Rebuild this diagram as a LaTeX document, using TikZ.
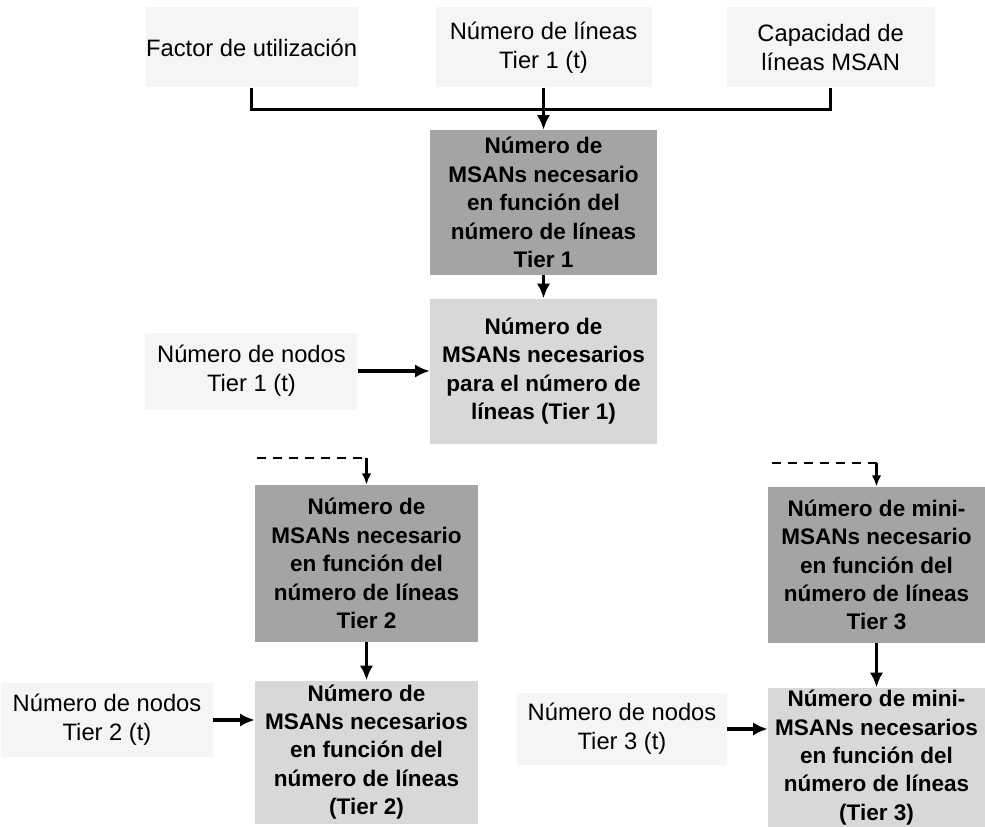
\documentclass[tikz,border=0pt]{standalone}
\usepackage{fontspec}
\setmainfont{Liberation Sans}
\usetikzlibrary{positioning}
\usetikzlibrary{arrows.meta}
\definecolor{darkGray}{HTML}{A4A4A4}
\definecolor{midGray}{HTML}{D8D8D8}
\definecolor{paleGray}{HTML}{F5F5F5}

\begin{document}
\begin{tikzpicture}[x=0.75pt, y=-0.75pt, inner sep=0.0pt, align=center,
    inbox/.style={rectangle, fill=paleGray, minimum width=159pt, minimum height=60pt, font=\fontsize{17.8pt}{21.75pt}\selectfont},
    calcbox/.style={rectangle, minimum width=170.25pt, font=\bfseries\fontsize{16.9pt}{21.3pt}\selectfont},
    flow/.style={line width=2.5pt, -{Latex[length=11pt, width=10pt]}},
    thinflow/.style={line width=1.6pt, -{Latex[length=8.5pt, width=7pt]}},
    link/.style={line width=2.5pt},
    feed/.style={line width=2.2pt, dash pattern=on 7pt off 5pt}]

    \useasboundingbox (0,0) rectangle (985,827);

    % Tier 1
    \node (mT1) [calcbox, fill=darkGray, minimum height=108.75pt] at (543.5,202.5) {Número de\\MSANs necesario\\en función del\\número de líneas\\Tier 1};
    \node (linesT1) [inbox, minimum width=162pt, above=31.5pt of mT1] {Número de líneas\\Tier 1 (t)};
    \node (usage) [inbox, left=58pt of linesT1] {Factor de utilización};
    \node (capacity) [inbox, minimum width=156pt, right=56pt of linesT1] {Capacidad de\\líneas MSAN};
    \node (mT1b) [calcbox, fill=midGray, minimum height=108.75pt, below=17.25pt of mT1] {Número de\\MSANs necesarios\\para el número de\\líneas (Tier 1)};
    \node (nodesT1) [inbox, minimum height=57.75pt, left=54pt of mT1b] {Número de nodos\\Tier 1 (t)};

    \draw [link] (usage.south) -- ++(0,22) -| (capacity.south);
    \draw [flow] (linesT1.south) -- (mT1.north);
    \draw [flow] (mT1.south) -- (mT1b.north);
    \draw [flow] (nodesT1.east) -- (mT1b.west);

    % Tier 2
    \node (mT2) [calcbox, fill=darkGray, minimum width=167.25pt, minimum height=117.75pt] at (366.5,563.5) {Número de\\MSANs necesario\\en función del\\número de líneas\\Tier 2};
    \node (mT2b) [calcbox, fill=midGray, minimum width=167.25pt, minimum height=107.25pt, below=28.5pt of mT2] {Número de\\MSANs necesarios\\en función del\\número de líneas\\(Tier 2)};
    \node (nodesT2) [inbox, minimum height=55.5pt] at (107,720) {Número de nodos\\Tier 2 (t)};

    \coordinate (feedT2) at (257,458);
    \draw [feed] (feedT2) -- (feedT2 -| mT2.north) coordinate (feedT2end);
    \draw [thinflow] (feedT2end) -- (mT2.north);
    \draw [flow] (mT2.south) -- (mT2b.north);
    \draw [flow] (nodesT2.east) -- (nodesT2.east -| mT2b.west);

    % Tier 3
    \node (mT3) [calcbox, fill=darkGray, minimum width=162.75pt, minimum height=117pt] at (876.5,565) {Número de mini-\\MSANs necesario\\en función del\\número de líneas\\Tier 3};
    \node (mT3b) [calcbox, fill=midGray, minimum width=162.75pt, minimum height=105pt, below=33pt of mT3] {Número de mini-\\MSANs necesarios\\en función del\\número de líneas\\(Tier 3)};
    \node (nodesT3) [inbox, minimum width=157.5pt, minimum height=54pt] at (622,729) {Número de nodos\\Tier 3 (t)};

    \coordinate (feedT3) at (772,463);
    \draw [feed] (feedT3) -- (feedT3 -| mT3.north) coordinate (feedT3end);
    \draw [thinflow] (feedT3end) -- (mT3.north);
    \draw [flow] (mT3.south) -- (mT3b.north);
    \draw [flow] (nodesT3.east) -- (nodesT3.east -| mT3b.west);
\end{tikzpicture}
\end{document}
